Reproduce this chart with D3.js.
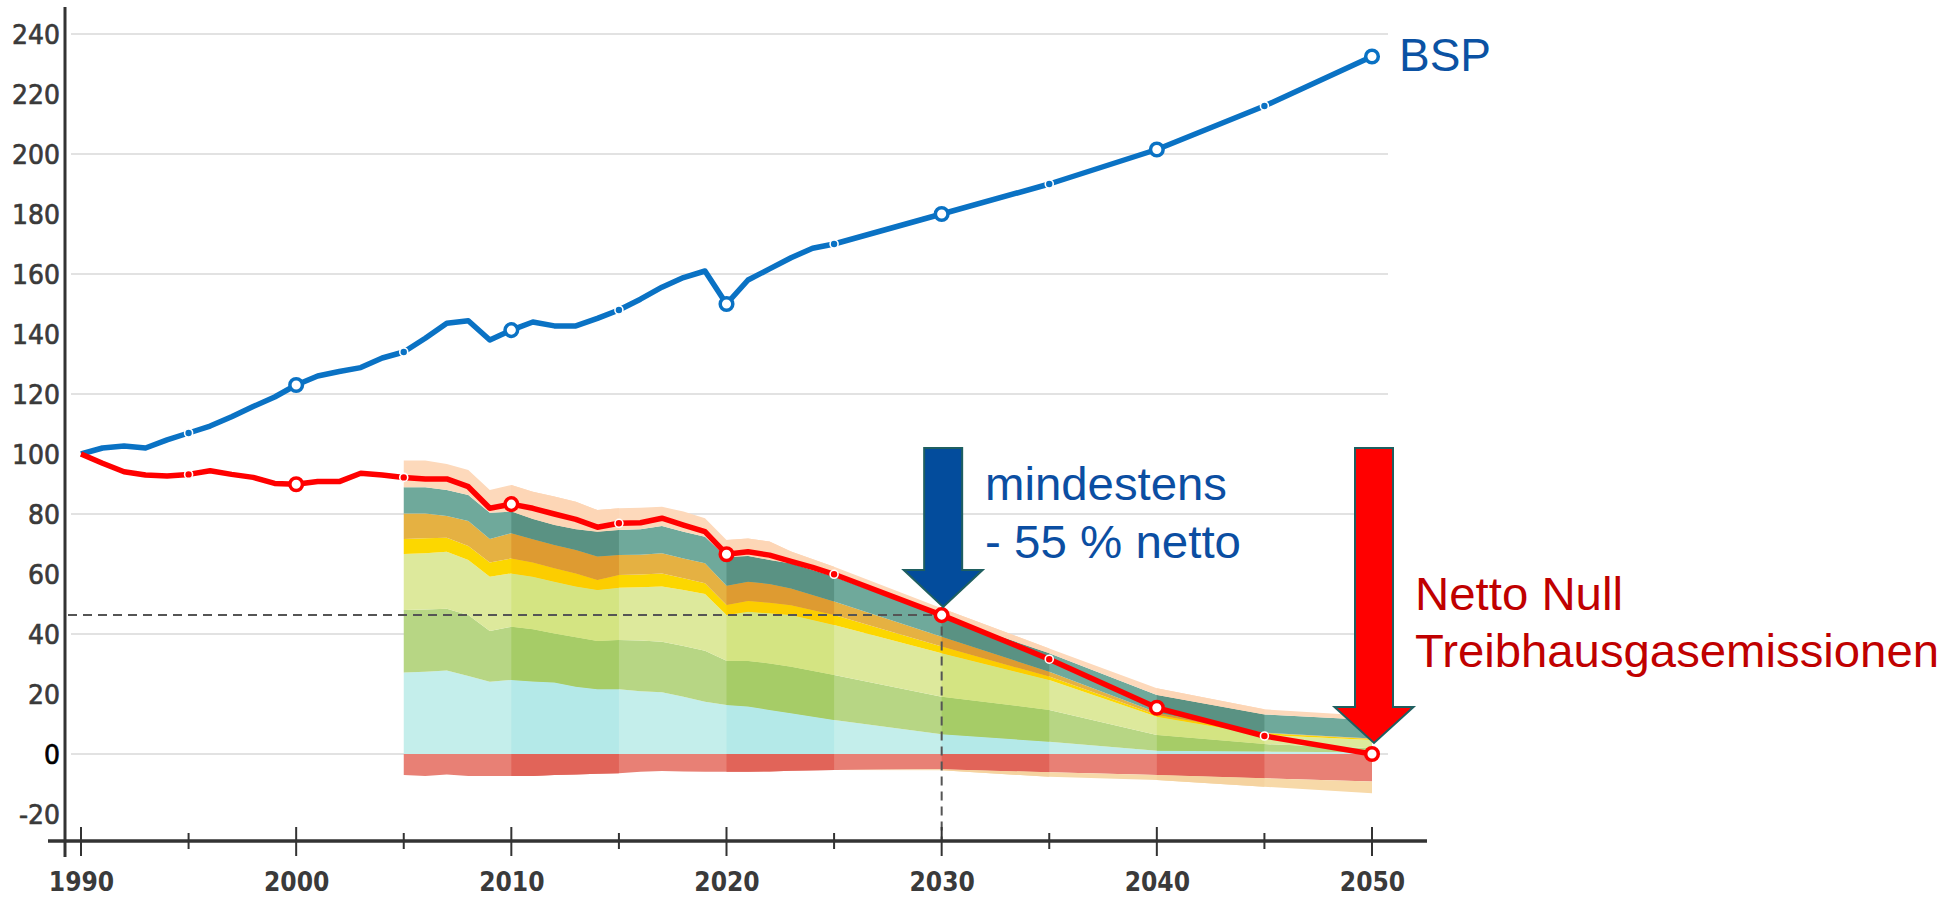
<!DOCTYPE html>
<html>
<head>
<meta charset="utf-8">
<script src="https://cdn.jsdelivr.net/npm/d3@7"></script>
<style>
  html, body { margin: 0; padding: 0; background: #ffffff; }
  svg { display: block; }
</style>
</head>
<body>
<script>
// ---------------- DATA ----------------
const lineYears = [1990,1991,1992,1993,1994,1995,1996,1997,1998,1999,
                   2000,2001,2002,2003,2004,2005,2006,2007,2008,2009,
                   2010,2011,2012,2013,2014,2015,2016,2017,2018,2019,
                   2020,2021,2022,2023,2024,2025,2030,2035,2040,2045,2050];
const bspValues = [100,102,102.7,102,104.7,107,109.3,112.4,115.8,119,
                   123,126,127.5,128.8,132,134,138.6,143.6,144.4,138,
                   141.3,144,142.7,142.7,145.2,148,151.6,155.6,158.8,161,
                   150,158,161.7,165.4,168.6,170,180,190,201.5,216,232.5];
const ghgValues = [100,96.9,94.1,93,92.7,93.2,94.4,93.2,92.2,90.2,
                   89.9,90.8,90.8,93.6,93,92.2,91.7,91.7,89.1,81.9,
                   83.3,81.9,80,78.2,75.6,76.9,77.1,78.6,76.3,74.1,
                   66.6,67.4,66.3,64.2,62.2,59.9,46.3,31.6,15.4,6,0];

const bigMarkerYears = [2000,2010,2020,2030,2040,2050];
const smallMarkerYears = [1995,2005,2015,2025,2035,2045];

const stackYears = [2005,2006,2007,2008,2009,2010,2011,2012,2013,2014,
                    2015,2016,2017,2018,2019,2020,2021,2022,2023,2025,
                    2030,2035,2040,2045,2050];
const sectorA = [27.2,27.4,27.8,26.0,24.1,24.7,24.2,23.8,22.4,21.6,21.6,20.9,20.6,19.1,17.4,16.3,15.8,14.7,13.6,11.3,6.6,4.1,1.1,0.8,0.6];
const sectorB = [20.8,20.8,20.6,20.3,16.9,17.7,17.4,16.4,16.5,16.1,16.4,16.9,16.8,16.9,17.0,14.8,15.2,15.5,15.5,15.0,12.5,10.6,5.2,2.5,1.3];
const sectorC = [18.7,18.7,19.0,18.4,18.1,17.8,17.5,17.2,16.9,17.0,17.4,17.8,18.4,18.7,18.9,15.2,16.4,16.7,17.2,16.7,14.5,10.0,6.1,3.0,2.8];
const sectorD = [5.0,5.0,4.7,4.6,4.7,5.0,4.7,4.5,4.4,3.3,4.3,4.2,4.4,3.9,3.6,3.4,3.6,3.5,3.3,3.3,2.2,1.1,0.6,0.6,0.3];
const sectorE = [8.5,8.3,7.2,8.4,7.9,8.4,7.8,7.8,7.8,7.8,6.6,6.6,6.7,6.6,6.7,6.4,6.4,6.3,5.6,4.5,3.3,1.6,0.8,0.2,0.2];
const sectorF = [8.7,8.7,8.7,8.6,8.7,7.2,6.7,6.6,6.9,8.3,8.4,8.5,9.1,8.9,8.8,9.5,8.6,8.0,8.3,8.3,6.7,6.2,5.9,6.1,6.1];
const sectorG = [8.9,8.9,8.7,8.4,7.6,8.9,9.1,9.5,9.2,7.2,7.2,7.2,6.4,6.7,6.2,5.7,5.8,6.1,4.0,3.3,2.8,1.6,2.2,1.7,1.4];
const sinkA = [-7.0,-7.3,-6.8,-7.3,-7.3,-7.3,-7.3,-7.0,-6.8,-6.6,-6.4,-5.9,-5.7,-5.8,-5.9,-5.9,-5.9,-5.8,-5.6,-5.3,-5.1,-6.1,-7.0,-8.1,-9.2];
const sinkB = [0,0,0,0,0,0,0,0,0,0,0,0,0,0,0,0,0,0,0,0,-0.3,-1.5,-1.7,-2.8,-3.9];

const yTickValues = [-20,0,20,40,60,80,100,120,140,160,180,200,220,240];
const gridValues = [0,40,80,120,160,200,240];
const xLabelYears = [1990,2000,2010,2020,2030,2040,2050];
const xTickYears = [1990,1995,2000,2005,2010,2015,2020,2025,2030,2035,2040,2045,2050];
const darkSpans = [[2010,2015],[2020,2025],[2030,2035],[2040,2045]];

// ---------------- STYLE ----------------
const posKeys = ["A","B","C","D","E","F","G"];
const negKeys = ["SA","SB"];
const layerLight = {A:"#c4eeeb",B:"#b7d684",C:"#dde99c",D:"#fcd700",E:"#e5b142",F:"#6fa99b",G:"#fdd9bb",SA:"#e88075",SB:"#f7d9a8"};
const layerDark  = {A:"#b4e9e8",B:"#a6cc67",C:"#d4e482",D:"#fccd00",E:"#de9b31",F:"#5a9283",G:"#fdd6b6",SA:"#e16459",SB:"#f5d3a0"};
const BLUE = "#0a72c4", RED = "#ff0000";

const W = 1956, H = 897;
const svg = d3.select("body").append("svg").attr("width", W).attr("height", H);

const x = d3.scaleLinear().domain([1990, 2050]).range([81, 1372]);
const y = d3.scaleLinear().domain([0, 240]).range([754, 34]);

// gridlines
svg.append("g").selectAll("line").data(gridValues).join("line")
  .attr("x1", 71).attr("x2", 1388)
  .attr("y1", d => y(d)).attr("y2", d => y(d))
  .attr("stroke", "#e2e2e2").attr("stroke-width", 2);

// stacked areas (positive sources upward, sinks downward)
const posTable = stackYears.map((yr, i) => ({
  year: yr, A: sectorA[i], B: sectorB[i], C: sectorC[i], D: sectorD[i],
  E: sectorE[i], F: sectorF[i], G: sectorG[i]
}));
const negTable = stackYears.map((yr, i) => ({ year: yr, SA: -sinkA[i], SB: -sinkB[i] }));
const posSeries = d3.stack().keys(posKeys)(posTable);
const negSeries = d3.stack().keys(negKeys)(negTable);
const posArea = d3.area().x(d => x(d.data.year)).y0(d => y(d[0])).y1(d => y(d[1]));
const negArea = d3.area().x(d => x(d.data.year)).y0(d => y(-d[0])).y1(d => y(-d[1]));
const allSeries = posSeries.map(s => ({ key: s.key, d: posArea(s) }))
  .concat(negSeries.map(s => ({ key: s.key, d: negArea(s) })));

const defs = svg.append("defs");
darkSpans.forEach((s, i) => {
  defs.append("clipPath").attr("id", "span" + i)
    .append("rect").attr("x", x(s[0])).attr("y", 0)
    .attr("width", x(s[1]) - x(s[0])).attr("height", H);
});

const areaG = svg.append("g");
areaG.selectAll("path.light").data(allSeries).join("path")
  .attr("class", "light").attr("d", s => s.d)
  .attr("fill", s => layerLight[s.key]);
darkSpans.forEach((sp, i) => {
  areaG.append("g").attr("clip-path", `url(#span${i})`)
    .selectAll("path").data(allSeries).join("path")
    .attr("d", s => s.d).attr("fill", s => layerDark[s.key]);
});

// dashed reference line
const y2030 = ghgValues[lineYears.indexOf(2030)];
svg.append("path")
  .attr("d", `M68,${y(y2030)} H${x(2030)} V841`)
  .attr("fill", "none").attr("stroke", "#555").attr("stroke-width", 2)
  .attr("stroke-dasharray", "9,6");

// lines
const lineGen = vals => d3.line().x((d, i) => x(lineYears[i])).y(d => y(d))(vals);
svg.append("path").attr("d", lineGen(bspValues))
  .attr("fill", "none").attr("stroke", BLUE).attr("stroke-width", 5.5)
  .attr("stroke-linejoin", "round");
svg.append("path").attr("d", lineGen(ghgValues))
  .attr("fill", "none").attr("stroke", RED).attr("stroke-width", 5.5)
  .attr("stroke-linejoin", "round");

// markers
function markers(vals, color) {
  const g = svg.append("g");
  g.selectAll("circle.big").data(bigMarkerYears).join("circle")
    .attr("cx", d => x(d)).attr("cy", d => y(vals[lineYears.indexOf(d)]))
    .attr("r", 6.3).attr("fill", "#fff").attr("stroke", color).attr("stroke-width", 3.5);
  g.selectAll("circle.small").data(smallMarkerYears).join("circle")
    .attr("cx", d => x(d)).attr("cy", d => y(vals[lineYears.indexOf(d)]))
    .attr("r", 4).attr("fill", color).attr("stroke", "#fff").attr("stroke-width", 1.6);
}
markers(bspValues, BLUE);
markers(ghgValues, RED);

// axes
const yAxisG = svg.append("g").attr("transform", "translate(65,0)")
  .call(d3.axisLeft(y).tickValues(yTickValues).tickFormat(d => String(d)).tickSize(0).tickPadding(5));
yAxisG.select(".domain").remove();
yAxisG.selectAll("text")
  .attr("font-family", "DejaVu Sans, sans-serif").attr("font-size", 27)
  .attr("fill", d => d === 0 ? "#000" : "#3a3a3a")
  .attr("stroke", d => d === 0 ? "#000" : "#3a3a3a").attr("stroke-width", 0.7)
  .attr("dy", "0.36em")
  .each(function() {
    const w = this.getComputedTextLength();
    d3.select(this).attr("textLength", w * 0.93).attr("lengthAdjust", "spacingAndGlyphs");
  });

const xAxisG = svg.append("g").attr("transform", "translate(0,841)")
  .call(d3.axisBottom(x).tickValues(xLabelYears).tickFormat(d3.format("d")).tickSize(0));
xAxisG.select(".domain").remove();
xAxisG.selectAll("text")
  .attr("font-family", "DejaVu Sans, sans-serif").attr("font-size", 27)
  .attr("font-weight", "bold").attr("fill", "#3a3a3a")
  .attr("y", 50).attr("dy", 0)
  .each(function() {
    const w = this.getComputedTextLength();
    d3.select(this).attr("textLength", w * 0.87).attr("lengthAdjust", "spacingAndGlyphs");
  });

svg.append("line").attr("x1", 65).attr("x2", 65).attr("y1", 7).attr("y2", 857)
  .attr("stroke", "#333").attr("stroke-width", 3);
svg.append("line").attr("x1", 48).attr("x2", 1427).attr("y1", 841).attr("y2", 841)
  .attr("stroke", "#333").attr("stroke-width", 3.5);
svg.append("g").selectAll("line").data(xTickYears).join("line")
  .attr("x1", d => x(d)).attr("x2", d => x(d))
  .attr("y1", d => d % 10 === 0 ? 827 : 833)
  .attr("y2", d => d % 10 === 0 ? 856 : 849)
  .attr("stroke", "#333").attr("stroke-width", 2);

// arrows
function arrow(cx, top, headTop, tip, fill) {
  const sw = 19, hw = 39.5;
  const p = `M${cx - sw},${top} H${cx + sw} V${headTop} H${cx + hw} L${cx},${tip} L${cx - hw},${headTop} H${cx - sw} Z`;
  svg.append("path").attr("d", p).attr("fill", fill)
    .attr("stroke", "#1f5f60").attr("stroke-width", 2).attr("stroke-linejoin", "miter");
}
arrow(x(2030) + 1.5, 448, 570, 607, "#034c9c");
arrow(x(2050) + 2, 448, 707, 743, "#ff0000");

// annotations
const txt = (t, tx, ty, color, len) => svg.append("text").text(t)
  .attr("x", tx).attr("y", ty).attr("fill", color)
  .attr("font-family", "Liberation Sans, Arial, sans-serif").attr("font-size", 47)
  .attr("textLength", len).attr("lengthAdjust", "spacingAndGlyphs");
txt("BSP", 1399, 71, "#0b52a3", 92);
txt("mindestens", 985, 500, "#0b4ea2", 242);
txt("- 55 % netto", 985, 558, "#0b4ea2", 256);
txt("Netto Null", 1415, 610, "#c00000", 208);
txt("Treibhausgasemissionen", 1415, 667, "#c00000", 524);
</script>
</body>
</html>
